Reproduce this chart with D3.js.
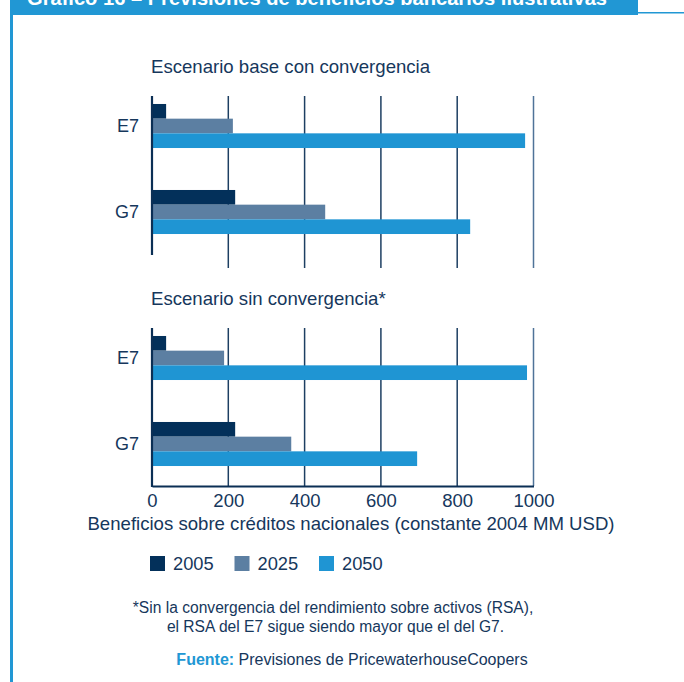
<!DOCTYPE html>
<html>
<head>
<meta charset="utf-8">
<script src="https://cdn.jsdelivr.net/npm/d3@7"></script>
<style>
  html, body { margin: 0; padding: 0; background: #ffffff; }
  svg { display: block; font-family: "Liberation Sans", Arial, Helvetica, sans-serif; }
</style>
</head>
<body>
<svg id="chart" width="684" height="682"></svg>
<script>
// Bank profit projections, two scenarios
const categories = ["E7", "G7"];
const seriesNames = ["2005", "2025", "2050"];
const baseScenario = [
  [37, 212, 978],   // E7
  [218, 454, 834]   // G7
];
const noConvergenceScenario = [
  [37, 189, 983],   // E7
  [218, 365, 695]   // G7
];
const xTicks = [0, 200, 400, 600, 800, 1000];
const panelTitles = ["Escenario base con convergencia", "Escenario sin convergencia*"];

const colors = ["#03305a", "#5c7fa2", "#1f95d3"];
const textColor = "#16375c";
const accent = "#2197d4";

const svg = d3.select("#chart");

// Frame: title bar and left rule
svg.append("rect").attr("x", 10).attr("y", 0).attr("width", 628).attr("height", 15).attr("fill", accent);
svg.append("rect").attr("x", 10).attr("y", 0).attr("width", 3).attr("height", 682).attr("fill", accent);
svg.append("rect").attr("x", 638).attr("y", 12).attr("width", 46).attr("height", 1.5).attr("fill", accent);
svg.append("text")
  .attr("x", 27).attr("y", 5)
  .attr("fill", "#ffffff")
  .attr("font-size", 21)
  .attr("font-weight", "bold")
  .attr("textLength", 580)
  .attr("lengthAdjust", "spacingAndGlyphs")
  .text("Gráfico 16 – Previsiones de beneficios bancarios ilustrativas");

const x = d3.scaleLinear().domain([0, 1000]).range([152, 533.5]);

function drawPanel(data, title, y0, withAxis) {
  const g = svg.append("g");
  const y = d3.scaleBand().domain(categories).range([y0, y0 + 172]).paddingInner(0.488).paddingOuter(0.244);
  const ySub = d3.scaleBand().domain(seriesNames).range([0, y.bandwidth()]);

  g.append("text")
    .attr("x", 151).attr("y", y0 - 10)
    .attr("fill", textColor).attr("font-size", 18.6)
    .text(title);

  // vertical grid lines
  g.selectAll("line.grid")
    .data(xTicks.slice(1))
    .join("line")
    .attr("class", "grid")
    .attr("x1", d => x(d)).attr("x2", d => x(d))
    .attr("y1", y0 + 13).attr("y2", withAxis ? y0 + 171 : y0 + 185)
    .attr("stroke", (d, i) => i === xTicks.length - 2 ? "#4f7398" : "#1d3f62")
    .attr("stroke-width", 1.5);

  // bars
  categories.forEach((c, ci) => {
    g.selectAll(null)
      .data(data[ci])
      .join("rect")
      .attr("x", x(0))
      .attr("y", (d, si) => y(c) + ySub(seriesNames[si]))
      .attr("width", d => x(d) - x(0))
      .attr("height", ySub.bandwidth())
      .attr("fill", (d, si) => colors[si]);
  });

  // category axis
  const yAxis = d3.axisLeft(y).tickSize(0).tickPadding(13);
  const ya = g.append("g").attr("transform", `translate(${x(0)},0)`).call(yAxis);
  ya.select(".domain").remove();
  ya.selectAll("text").attr("fill", textColor).attr("font-size", 18).attr("font-family", null);

  g.append("line")
    .attr("x1", x(0)).attr("x2", x(0))
    .attr("y1", y0 + 13).attr("y2", y0 + 172)
    .attr("stroke", "#0b2f55").attr("stroke-width", 2.2);

  if (withAxis) {
    const xAxis = d3.axisBottom(x).tickValues(xTicks).tickSize(0).tickPadding(8).tickFormat(d3.format("d"));
    const xa = g.append("g").attr("transform", `translate(0,${y0 + 171})`).call(xAxis);
    xa.select(".domain").attr("stroke", "#0b2f55").attr("stroke-width", 2);
    xa.selectAll("text").attr("fill", textColor).attr("font-size", 18.5).attr("font-family", null);
  }
}

drawPanel(baseScenario, panelTitles[0], 83, false);
drawPanel(noConvergenceScenario, panelTitles[1], 315, true);

svg.append("text")
  .attr("x", 351).attr("y", 530)
  .attr("text-anchor", "middle")
  .attr("fill", textColor).attr("font-size", 18.6)
  .text("Beneficios sobre créditos nacionales (constante 2004 MM USD)");

// legend
const legend = svg.append("g").attr("transform", "translate(150,556)");
const legendItems = legend.selectAll("g")
  .data(seriesNames)
  .join("g")
  .attr("transform", (d, i) => `translate(${i * 84.5},0)`);
legendItems.append("rect").attr("width", 15).attr("height", 15).attr("fill", (d, i) => colors[i]);
legendItems.append("text").attr("x", 23).attr("y", 14)
  .attr("fill", textColor).attr("font-size", 18.3).text(d => d);

// notes
const notes = svg.append("g").attr("fill", textColor).attr("font-size", 15.6).attr("text-anchor", "middle");
notes.append("text").attr("x", 333).attr("y", 613).text("*Sin la convergencia del rendimiento sobre activos (RSA),");
notes.append("text").attr("x", 335.5).attr("y", 632).text("el RSA del E7 sigue siendo mayor que el del G7.");
const src = svg.append("text").attr("x", 352).attr("y", 665).attr("text-anchor", "middle").attr("font-size", 16);
src.append("tspan").attr("fill", accent).attr("font-weight", "bold").text("Fuente:");
src.append("tspan").attr("fill", textColor).text(" Previsiones de PricewaterhouseCoopers");
</script>
</body>
</html>
